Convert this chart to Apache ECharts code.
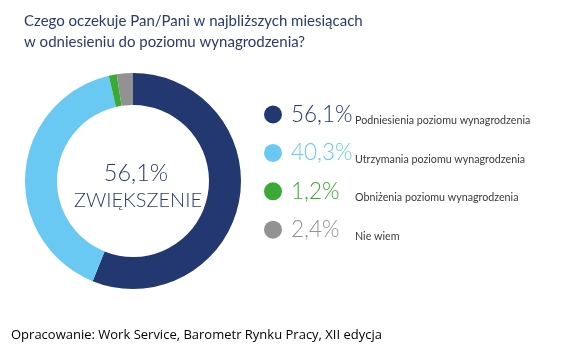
<!DOCTYPE html>
<html><head><meta charset="utf-8">
<script src="https://cdn.jsdelivr.net/npm/echarts@6/dist/echarts.min.js"></script>
<style>html,body{margin:0;padding:0;background:#fff}#c{width:578px;height:359px}</style>
</head><body><div id="c"></div>
<script>
const categories = ['Podniesienia poziomu wynagrodzenia','Utrzymania poziomu wynagrodzenia','Obniżenia poziomu wynagrodzenia','Nie wiem'];
const values = [56.1, 40.3, 1.2, 2.4];
const valueLabels = ['56,1%','40,3%','1,2%','2,4%'];
const colors = ['#233870','#69c9f3','#3aaa35','#929292'];
const titleText = 'Czego oczekuje Pan/Pani w najbliższych miesiącach\nw odniesieniu do poziomu wynagrodzenia?';
const centerValue = '56,1%';
const centerLabel = 'ZWIĘKSZENIE';
const sourceText = 'Opracowanie: Work Service, Barometr Rynku Pracy, XII edycja';

const font = 'Lato, "Open Sans", sans-serif';
const rich = { n: { fontSize: 10.7, color: '#3a3a3a', fontFamily: font, verticalAlign: 'bottom', padding: [0,0,3,0] } };
categories.forEach((c, i) => {
  rich['v' + i] = { fontSize: 22.5, fontWeight: 300, color: colors[i], fontFamily: font, width: 64, padding: [0,0,0,4], lineHeight: 30 };
});

const chart = echarts.init(document.getElementById('c'));
chart.setOption({
  animation: false,
  color: colors,
  title: [
    { text: titleText, left: 19, top: 6, textStyle: { fontSize: 15, fontWeight: 'normal', color: '#2b3a6c', fontFamily: font, lineHeight: 21 } },
    { text: centerValue, left: 131, top: 156, textAlign: 'center', textStyle: { fontSize: 23.5, fontWeight: 300, color: '#2b3a6c', fontFamily: font } },
    { text: centerLabel, left: 133, top: 186, textAlign: 'center', textStyle: { fontSize: 20, fontWeight: 300, color: '#2b3a6c', fontFamily: font } },
    { text: sourceText, left: 6, top: 324, textStyle: { fontSize: 13, fontWeight: 'normal', color: '#000', fontFamily: '"Open Sans", sans-serif' } }
  ],
  legend: {
    orient: 'vertical', left: 259, top: 98, icon: 'circle', itemWidth: 18, itemHeight: 18, itemGap: 14.9,
    selectedMode: false,
    data: categories,
    formatter: name => { const i = categories.indexOf(name); return '{v' + i + '|' + valueLabels[i] + '}{n|' + name + '}'; },
    textStyle: { rich: rich }
  },
  series: [{
    type: 'pie', center: [133, 181], radius: [76, 108], startAngle: 90, clockwise: true,
    label: { show: false }, labelLine: { show: false }, silent: true,
    data: categories.map((c, i) => ({ name: c, value: values[i] }))
  }]
});
</script></body></html>
